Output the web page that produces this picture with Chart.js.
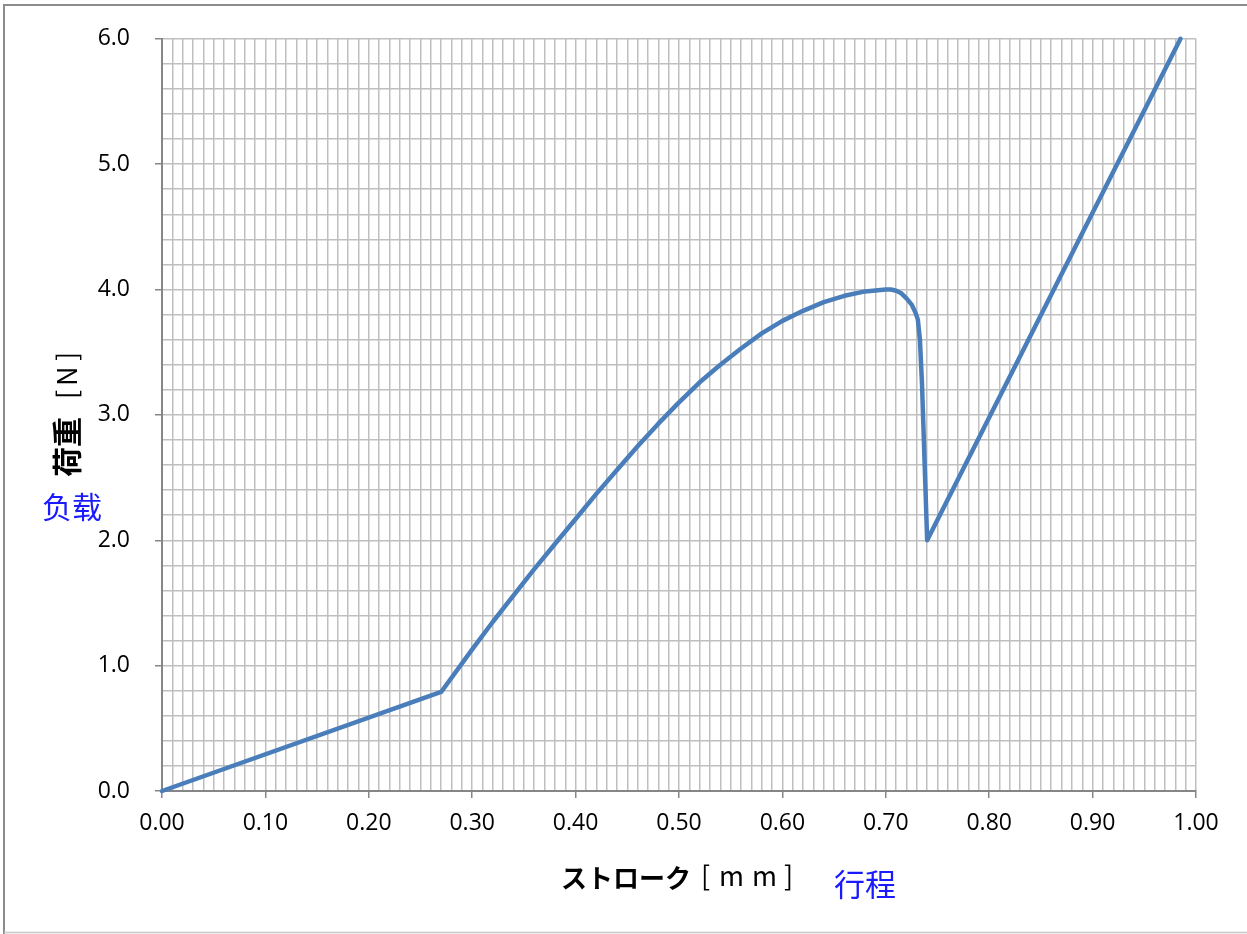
<!DOCTYPE html>
<html>
<head>
<meta charset="utf-8">
<script src="https://cdn.jsdelivr.net/npm/chart.js@4/dist/chart.umd.min.js"></script>
<style>
html,body{margin:0;padding:0;background:#fff;}
#wrap{position:relative;width:1247px;height:934px;}
</style>
</head>
<body>
<div id="wrap"><canvas id="c" width="1247" height="934"></canvas></div>
<script>
// Data
const strokeMm = [0.00, 0.27, 0.30, 0.32, 0.34, 0.36, 0.38, 0.40, 0.42, 0.44, 0.46, 0.48, 0.50, 0.52, 0.54, 0.56, 0.58, 0.60, 0.62, 0.64, 0.66, 0.68, 0.70, 0.705, 0.71, 0.715, 0.72, 0.725, 0.729, 0.731, 0.733, 0.735, 0.740, 0.985];
const loadN    = [0.00, 0.79, 1.13, 1.35, 1.56, 1.77, 1.97, 2.17, 2.37, 2.56, 2.75, 2.93, 3.10, 3.26, 3.40, 3.53, 3.65, 3.75, 3.83, 3.90, 3.95, 3.985, 4.00, 4.00, 3.99, 3.97, 3.93, 3.88, 3.81, 3.76, 3.60, 3.25, 2.00, 6.00];
const xTickLabels = ['0.00','0.10','0.20','0.30','0.40','0.50','0.60','0.70','0.80','0.90','1.00'];
const yTickLabels = ['0.0','1.0','2.0','3.0','4.0','5.0','6.0'];
const xTitleBold = 'ストローク';
const xTitleUnit = ['[', 'm', 'm', ']'];
const xTitleExtra = '行程';
const yTitleBold = '荷重';
const yTitleUnit = ['[', 'N', ']'];
const yTitleExtra = '负载';

const points = strokeMm.map((x, i) => ({x: x, y: loadN[i]}));

const isMajorX = v => Math.abs(v * 10 - Math.round(v * 10)) < 1e-6;
const isMajorY = v => Math.abs(v - Math.round(v)) < 1e-6;

const framePlugin = {
  id: 'frame',
  afterDraw(chart) {
    const ctx = chart.ctx;
    ctx.save();
    ctx.strokeStyle = '#8c8c8c';
    ctx.lineWidth = 2;
    ctx.beginPath();
    ctx.moveTo(4, 934);
    ctx.lineTo(4, 5);
    ctx.lineTo(1247, 5);
    ctx.stroke();
    ctx.strokeStyle = '#c8c8c8';
    ctx.lineWidth = 1.5;
    ctx.beginPath();
    ctx.moveTo(4, 932.5);
    ctx.lineTo(1247, 932.5);
    ctx.stroke();

    // X axis title
    ctx.textBaseline = 'middle';
    ctx.textAlign = 'left';
    ctx.fillStyle = '#000';
    ctx.font = 'bold 26px "Noto Sans CJK JP"';
    ctx.fillText(xTitleBold, 561, 878);
    ctx.font = '27px "Noto Sans CJK JP"';
    const unitX = [701, 719, 752, 784];
    xTitleUnit.forEach((ch, i) => ctx.fillText(ch, unitX[i], 876));
    ctx.fillStyle = '#1a1aff';
    ctx.font = '31px "Noto Sans CJK SC"';
    ctx.fillText(xTitleExtra, 834, 884);

    // Y axis title (rotated, reads bottom to top)
    ctx.save();
    ctx.translate(67, 477);
    ctx.rotate(-Math.PI / 2);
    ctx.fillStyle = '#000';
    ctx.textAlign = 'left';
    ctx.font = 'bold 30px "Noto Sans CJK JP"';
    ctx.fillText(yTitleBold, 0, 0);
    ctx.font = '27px "Noto Sans CJK JP"';
    const unitY = [78, 91, 116];
    yTitleUnit.forEach((ch, i) => ctx.fillText(ch, unitY[i], 0));
    ctx.restore();

    ctx.fillStyle = '#1a1aff';
    ctx.font = '30px "Noto Sans CJK SC"';
    ctx.textAlign = 'left';
    ctx.fillText(yTitleExtra, 42, 507);
    ctx.restore();
  }
};

const chart = new Chart(document.getElementById('c'), {
  type: 'scatter',
  data: {
    datasets: [{
      data: points,
      showLine: true,
      borderColor: '#4a7ebb',
      backgroundColor: '#4a7ebb',
      borderWidth: 4.5,
      borderJoinStyle: 'round',
      borderCapStyle: 'round',
      pointRadius: 0,
      tension: 0,
      clip: 3
    }]
  },
  options: {
    responsive: false,
    animation: false,
    devicePixelRatio: 1,
    layout: { padding: { top: 35, right: 51, left: 0, bottom: 0 } },
    plugins: { legend: { display: false }, tooltip: { enabled: false } },
    scales: {
      x: {
        type: 'linear',
        min: 0, max: 1,
        afterFit(scale) { scale.height = 143; },
        afterBuildTicks(scale) {
          const t = [];
          for (let i = 0; i <= 100; i++) t.push({ value: i / 100 });
          scale.ticks = t;
        },
        ticks: {
          autoSkip: false,
          maxRotation: 0,
          padding: 12,
          color: '#000',
          font: { family: '"Open Sans", "Noto Sans", sans-serif', size: 23 },
          callback(v) {
            if (!isMajorX(v)) return '';
            return xTickLabels[Math.round(v * 10)];
          }
        },
        grid: {
          color: '#bfbfbf',
          lineWidth: 1.5,
          tickLength: 7,
          tickColor: ctx => (ctx.tick && isMajorX(ctx.tick.value)) ? '#868686' : 'rgba(0,0,0,0)'
        },
        border: { color: '#868686', width: 2 }
      },
      y: {
        type: 'linear',
        min: 0, max: 6,
        afterFit(scale) { scale.width = 162; },
        afterBuildTicks(scale) {
          const t = [];
          for (let i = 0; i <= 30; i++) t.push({ value: i / 5 });
          scale.ticks = t;
        },
        ticks: {
          autoSkip: false,
          padding: 25,
          color: '#000',
          font: { family: '"Open Sans", "Noto Sans", sans-serif', size: 23 },
          callback(v) {
            if (!isMajorY(v)) return '';
            return yTickLabels[Math.round(v)];
          }
        },
        grid: {
          color: '#bfbfbf',
          lineWidth: 1.5,
          tickLength: 7,
          tickColor: ctx => (ctx.tick && isMajorY(ctx.tick.value)) ? '#868686' : 'rgba(0,0,0,0)'
        },
        border: { color: '#868686', width: 2 }
      }
    }
  },
  plugins: [framePlugin]
});

// Pin the plot area to the reference position (left 162, top 35, right 1196, bottom 791)
const pad = chart.options.layout.padding;
const ca = chart.chartArea;
pad.top += 35 - ca.top;
pad.right += ca.right - 1196;
chart.update();
</script>
</body>
</html>
